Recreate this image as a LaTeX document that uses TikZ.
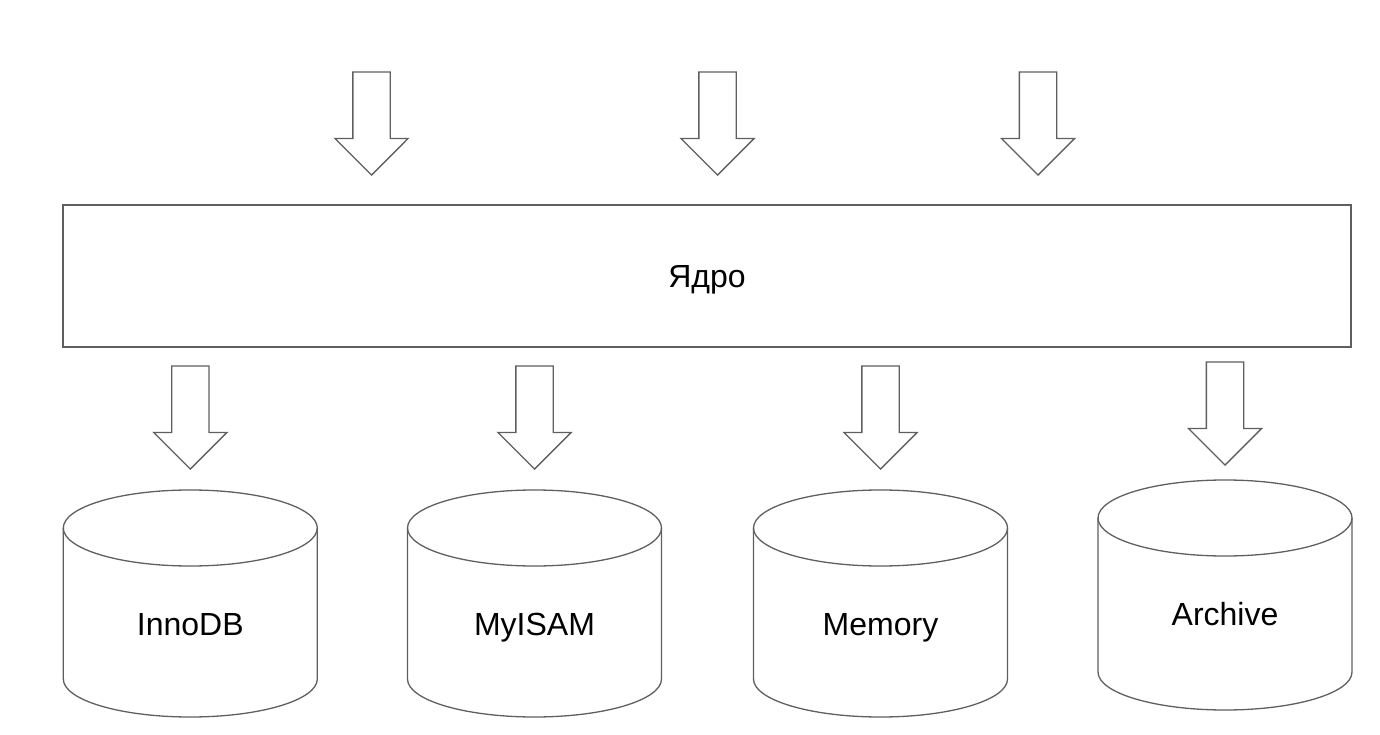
\documentclass[tikz,border=0pt]{standalone}
\usepackage{fontspec}
\setmainfont{Liberation Sans}
\usetikzlibrary{shapes.arrows}

\definecolor{linegray}{RGB}{95,95,95}

\tikzset{
  blockarrow/.style={single arrow, draw=linegray, line width=1.3pt, inner xsep=0, inner ysep=18pt,
    minimum height=103pt, single arrow head extend=18pt, rotate=-90, anchor=tip},
  corebox/.style={draw=linegray, line width=1.3pt, minimum width=1288pt, minimum height=142pt,
    text height=30pt, text depth=6pt},
  dbline/.style={draw=linegray, line width=1.3pt},
  dblabel/.style={inner sep=0},
}

\begin{document}
\begin{tikzpicture}[x=1pt, y=1pt, font=\fontsize{32}{38}\selectfont]
        \useasboundingbox (0,0) rectangle (1380,734);

        % Core
        \node [corebox] (core) at (707,458) {Ядро};

        % Incoming requests
        \foreach \x/\name in {371.5/req1, 717.5/req2, 1038/req3}{%
          \node [blockarrow] (\name) at (\x,558) {};
        };

        % Storage engines
        \foreach \cx/\cy/\h/\ay/\name/\txt in {190.3/206/151/264/innodb/InnoDB, 534.5/206/151/264/myisam/MyISAM,
                                               880.5/206/151/264/memory/Memory, 1225/216/154/268/archive/Archive}{%
          \draw [dbline] (\cx-127,\cy) -- (\cx-127,\cy-\h)
            arc [start angle=180, end angle=360, x radius=127, y radius=38] -- (\cx+127,\cy);
          \draw [dbline] (\cx,\cy) ellipse [x radius=127, y radius=38];
          \node [dblabel, anchor=base] (\name) at (\cx,\cy-107) {\txt};
          \node [blockarrow] (to\name) at (\cx,\ay) {};
        };
      \end{tikzpicture}
\end{document}
